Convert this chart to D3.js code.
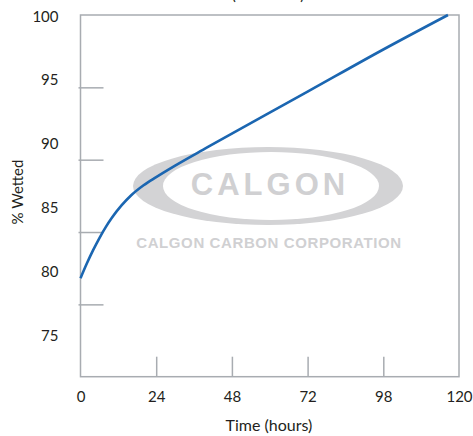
<!DOCTYPE html>
<html>
<head>
  <style>
    body { margin: 0; background: #fff; }
    svg { font-family: Lato, "Open Sans", sans-serif; }
    .lbl { fill: #231f20; font-size: 15px; }
  </style>
  <title>% Wetted vs Time</title>
</head>
<body>
  <script src="https://cdn.jsdelivr.net/npm/d3@7/dist/d3.min.js"></script>
  <script>
    // data
    var hours  = [0, 2, 4, 6, 8, 10, 13, 16, 20, 24, 30, 40, 72, 96, 116.5]
    var wetted = [79.5, 80.65, 81.7, 82.65, 83.5, 84.25, 85.2, 85.98, 86.78, 87.42, 88.32, 89.72, 94.1, 97.4, 100.1]
    var xTickValues = [0, 24, 48, 72, 96, 120]
    var xTickLabels = ["0", "24", "48", "72", "98", "120"]
    var yTickValues = [75, 80, 85, 90, 95, 100]

    var width = 473, height = 436
    var box = {left: 80.5, top: 15, right: 459, bottom: 376.7}

    var svg = d3.select("body").append("svg")
      .attr("width", width)
      .attr("height", height)

    var x = d3.scaleLinear().domain([0, 120]).range([box.left, box.right])
    var y = d3.scaleLinear().domain([71.8, 100.1]).range([box.bottom, box.top])
    // the frame is split in fifths for the inner tick marks
    var grid = d3.scaleLinear().domain([0, 5]).range([box.bottom, box.top])

    var frameColor = "#a8acb1"

    // title (cut off at top of the picture, as in the original)
    svg.append("text")
      .attr("class", "lbl")
      .attr("x", 268)
      .attr("y", -0.5)
      .attr("text-anchor", "middle")
      .style("font-size", "15px")
      .text("(% Wetted)")

    // watermark
    var wm = svg.append("g")
    wm.append("ellipse")
      .attr("cx", 268).attr("cy", 186).attr("rx", 135).attr("ry", 39)
      .attr("fill", "#d3d3d5")
    wm.append("ellipse")
      .attr("cx", 271).attr("cy", 186).attr("rx", 108).attr("ry", 34)
      .attr("fill", "#fff")
    wm.append("text")
      .attr("x", 270).attr("y", 195)
      .attr("text-anchor", "middle")
      .style("font-family", "'Liberation Sans', Arial, sans-serif")
      .style("font-weight", "bold")
      .style("font-size", "31px")
      .style("letter-spacing", "4px")
      .attr("fill", "#d0d0d2")
      .text("CALGON")
    wm.append("text")
      .attr("x", 269).attr("y", 248)
      .attr("text-anchor", "middle")
      .style("font-family", "'Liberation Sans', Arial, sans-serif")
      .style("font-weight", "bold")
      .style("font-size", "15px")
      .style("letter-spacing", "0.6px")
      .attr("fill", "#d0d0d2")
      .text("CALGON CARBON CORPORATION")

    // frame
    svg.append("rect")
      .attr("x", box.left).attr("y", box.top)
      .attr("width", box.right - box.left)
      .attr("height", box.bottom - box.top)
      .attr("fill", "none")
      .attr("stroke", frameColor)
      .attr("stroke-width", 1.5)

    // inner tick marks
    var yMarks = svg.append("g")
      .attr("transform", "translate(" + (box.left - 2) + ",0)")
      .call(d3.axisRight(grid).tickValues([1, 2, 3, 4]).tickSize(25).tickFormat(""))
    yMarks.select(".domain").remove()
    yMarks.selectAll("line").attr("stroke", frameColor).attr("stroke-width", 1.5)

    var xMarks = svg.append("g")
      .attr("transform", "translate(0," + box.bottom + ")")
      .call(d3.axisTop(x).tickValues(xTickValues.slice(1, -1)).tickSize(20).tickFormat(""))
    xMarks.select(".domain").remove()
    xMarks.selectAll("line").attr("stroke", frameColor).attr("stroke-width", 1.5)

    // tick labels
    var xAxis = svg.append("g")
      .attr("transform", "translate(0," + box.bottom + ")")
      .call(d3.axisBottom(x).tickValues(xTickValues).tickSize(0).tickPadding(15)
        .tickFormat(function (d, i) { return xTickLabels[i] }))
    xAxis.select(".domain").remove()
    xAxis.selectAll("text").attr("class", "lbl").attr("fill", null)
      .style("font-size", "15px").style("font-family", "Lato, sans-serif")

    var yAxis = svg.append("g")
      .attr("transform", "translate(" + box.left + ",0)")
      .call(d3.axisLeft(y).tickValues(yTickValues).tickSize(0).tickPadding(22))
    yAxis.select(".domain").remove()
    yAxis.selectAll("text").attr("class", "lbl").attr("fill", null)
      .style("font-size", "15px").style("font-family", "Lato, sans-serif")

    // axis titles
    svg.append("text")
      .attr("class", "lbl")
      .attr("text-anchor", "middle")
      .attr("x", 269)
      .attr("y", 431)
      .style("font-size", "16px")
      .text("Time (hours)")

    svg.append("text")
      .attr("class", "lbl")
      .attr("text-anchor", "middle")
      .attr("transform", "translate(23,192) rotate(-90)")
      .style("font-size", "15px")
      .text("% Wetted")

    // curve
    var points = hours.map(function (h, i) { return {t: h, v: wetted[i]} })
    var line = d3.line()
      .x(function (d) { return x(d.t) })
      .y(function (d) { return y(d.v) })
      .curve(d3.curveMonotoneX)

    svg.append("path")
      .datum(points)
      .attr("d", line)
      .attr("fill", "none")
      .attr("stroke", "#1b66b1")
      .attr("stroke-width", 2.6)
  </script>
</body>
</html>
